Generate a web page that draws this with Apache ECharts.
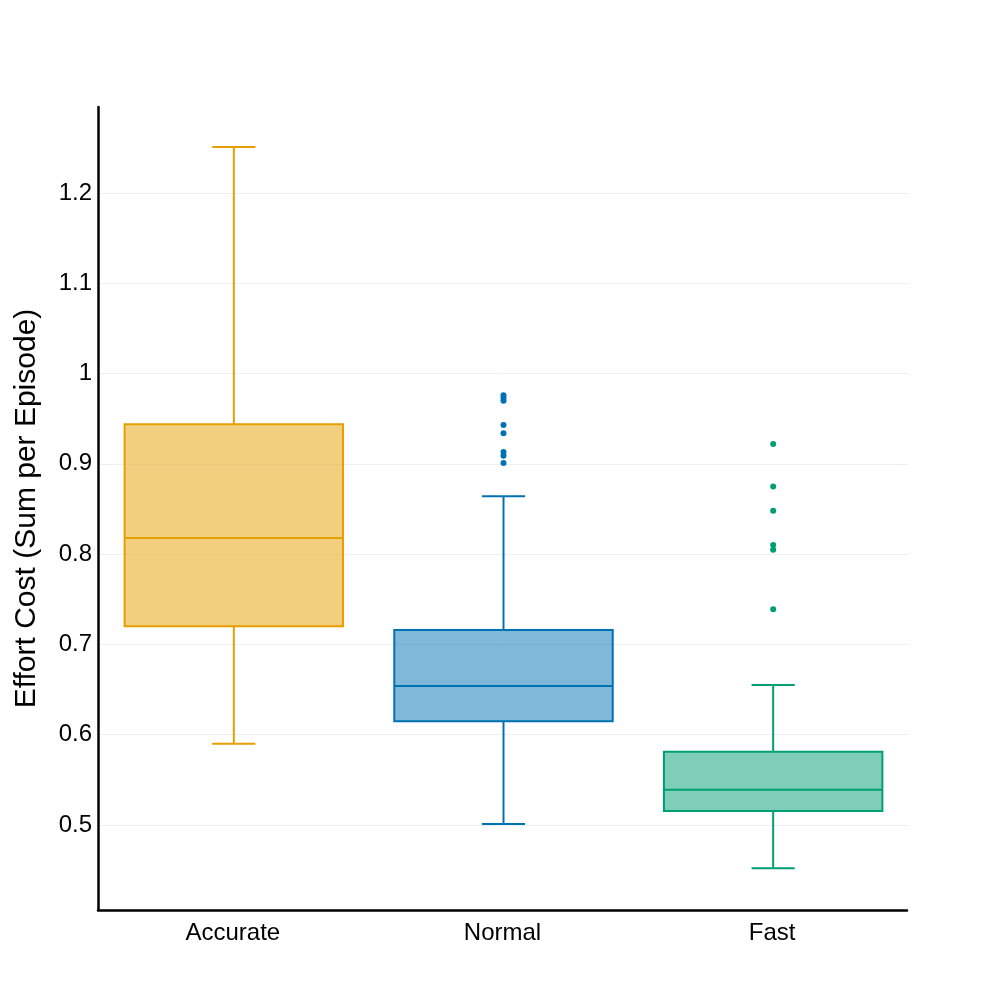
<!DOCTYPE html>
<html>
<head>
<meta charset="utf-8">
<script src="https://cdn.jsdelivr.net/npm/echarts@6/dist/echarts.min.js"></script>
<style>html,body{margin:0;padding:0;background:#fff}#c{width:996px;height:996px}</style>
</head>
<body>
<div id="c"></div>
<script>
var categories = ['Accurate', 'Normal', 'Fast'];
// [min whisker, Q1, median, Q3, max whisker]
var accurateBox = [0.590, 0.720, 0.818, 0.944, 1.251];
var normalBox = [0.501, 0.615, 0.654, 0.716, 0.864];
var fastBox = [0.452, 0.5155, 0.539, 0.581, 0.655];
var normalOutliers = [0.976, 0.973, 0.970, 0.943, 0.934, 0.913, 0.909, 0.901];
var fastOutliers = [0.922, 0.875, 0.848, 0.810, 0.805, 0.739];
var yTicks = [0.5, 0.6, 0.7, 0.8, 0.9, 1.0, 1.1, 1.2];

var lineColors = ['#E69F00', '#0072B2', '#009E73'];
var fillColors = ['rgba(230,159,0,0.5)', 'rgba(0,114,178,0.5)', 'rgba(0,158,115,0.5)'];

var boxes = [accurateBox, normalBox, fastBox];
var boxData = boxes.map(function (b, i) { return [i].concat(b); });
var outlierData = [];
normalOutliers.forEach(function (v) { outlierData.push([1, v]); });
fastOutliers.forEach(function (v) { outlierData.push([2, v]); });

var FONT = '"Liberation Sans", Arial, sans-serif';

function renderBox(params, api) {
  var idx = api.value(0);
  var band = api.size([1, 0])[0];
  var bw = band * 0.81;
  var cw = band * 0.16;
  var cx = api.coord([idx, 0])[0];
  var yMin = api.coord([idx, api.value(1)])[1];
  var yQ1 = api.coord([idx, api.value(2)])[1];
  var yMed = api.coord([idx, api.value(3)])[1];
  var yQ3 = api.coord([idx, api.value(4)])[1];
  var yMax = api.coord([idx, api.value(5)])[1];
  var st = { stroke: lineColors[idx], lineWidth: 2, fill: null };
  return {
    type: 'group',
    children: [
      { type: 'line', shape: { x1: cx, y1: yMax, x2: cx, y2: yQ3 }, style: st },
      { type: 'line', shape: { x1: cx, y1: yQ1, x2: cx, y2: yMin }, style: st },
      { type: 'line', shape: { x1: cx - cw / 2, y1: yMax, x2: cx + cw / 2, y2: yMax }, style: st },
      { type: 'line', shape: { x1: cx - cw / 2, y1: yMin, x2: cx + cw / 2, y2: yMin }, style: st },
      { type: 'rect', shape: { x: cx - bw / 2, y: yQ3, width: bw, height: yQ1 - yQ3 },
        style: { fill: fillColors[idx], stroke: lineColors[idx], lineWidth: 2 } },
      { type: 'line', shape: { x1: cx - bw / 2, y1: yMed, x2: cx + bw / 2, y2: yMed }, style: st }
    ]
  };
}

var chart = echarts.init(document.getElementById('c'), null, { renderer: 'canvas' });
chart.setOption({
  animation: false,
  backgroundColor: '#ffffff',
  grid: [
    { left: 99, right: 88, top: 193, bottom: 171, containLabel: false },
    { left: 98, right: 89, top: 107, bottom: 86, containLabel: false }
  ],
  xAxis: [
    { type: 'category', gridIndex: 0, data: categories, boundaryGap: true,
      axisLine: { show: false }, axisTick: { show: false }, axisLabel: { show: false }, splitLine: { show: false } },
    { type: 'category', gridIndex: 1, data: categories, boundaryGap: true,
      axisLine: { show: true, lineStyle: { color: '#000', width: 2.5 } },
      axisTick: { show: false },
      axisLabel: { show: true, color: '#000', fontSize: 24, fontFamily: FONT, margin: 11 },
      splitLine: { show: false } }
  ],
  yAxis: [
    { type: 'value', gridIndex: 0, min: yTicks[0], max: yTicks[yTicks.length - 1], interval: 0.1,
      axisLine: { show: false }, axisTick: { show: false },
      axisLabel: { show: true, color: '#000', fontSize: 24, fontFamily: FONT, margin: 7,
        formatter: function (v) { return String(Math.round(v * 10) / 10); } },
      splitLine: { show: true, lineStyle: { color: '#ECEFF7', width: 1 } } },
    { type: 'value', gridIndex: 1, min: 0, max: 1,
      axisLine: { show: true, lineStyle: { color: '#000', width: 2.5 } },
      axisTick: { show: false }, axisLabel: { show: false }, splitLine: { show: false },
      name: 'Effort Cost (Sum per Episode)', nameLocation: 'middle', nameGap: 56,
      nameTextStyle: { color: '#000', fontSize: 30, fontFamily: FONT } }
  ],
  series: [
    { type: 'custom', xAxisIndex: 0, yAxisIndex: 0, clip: false, renderItem: renderBox,
      data: boxData, encode: { x: 0, y: [1, 2, 3, 4, 5] }, z: 3 },
    { type: 'scatter', xAxisIndex: 0, yAxisIndex: 0, clip: false, symbol: 'circle', symbolSize: 6,
      data: outlierData,
      itemStyle: { color: function (p) { return lineColors[p.data[0]]; }, opacity: 1 }, z: 4 }
  ]
});
</script>
</body>
</html>
